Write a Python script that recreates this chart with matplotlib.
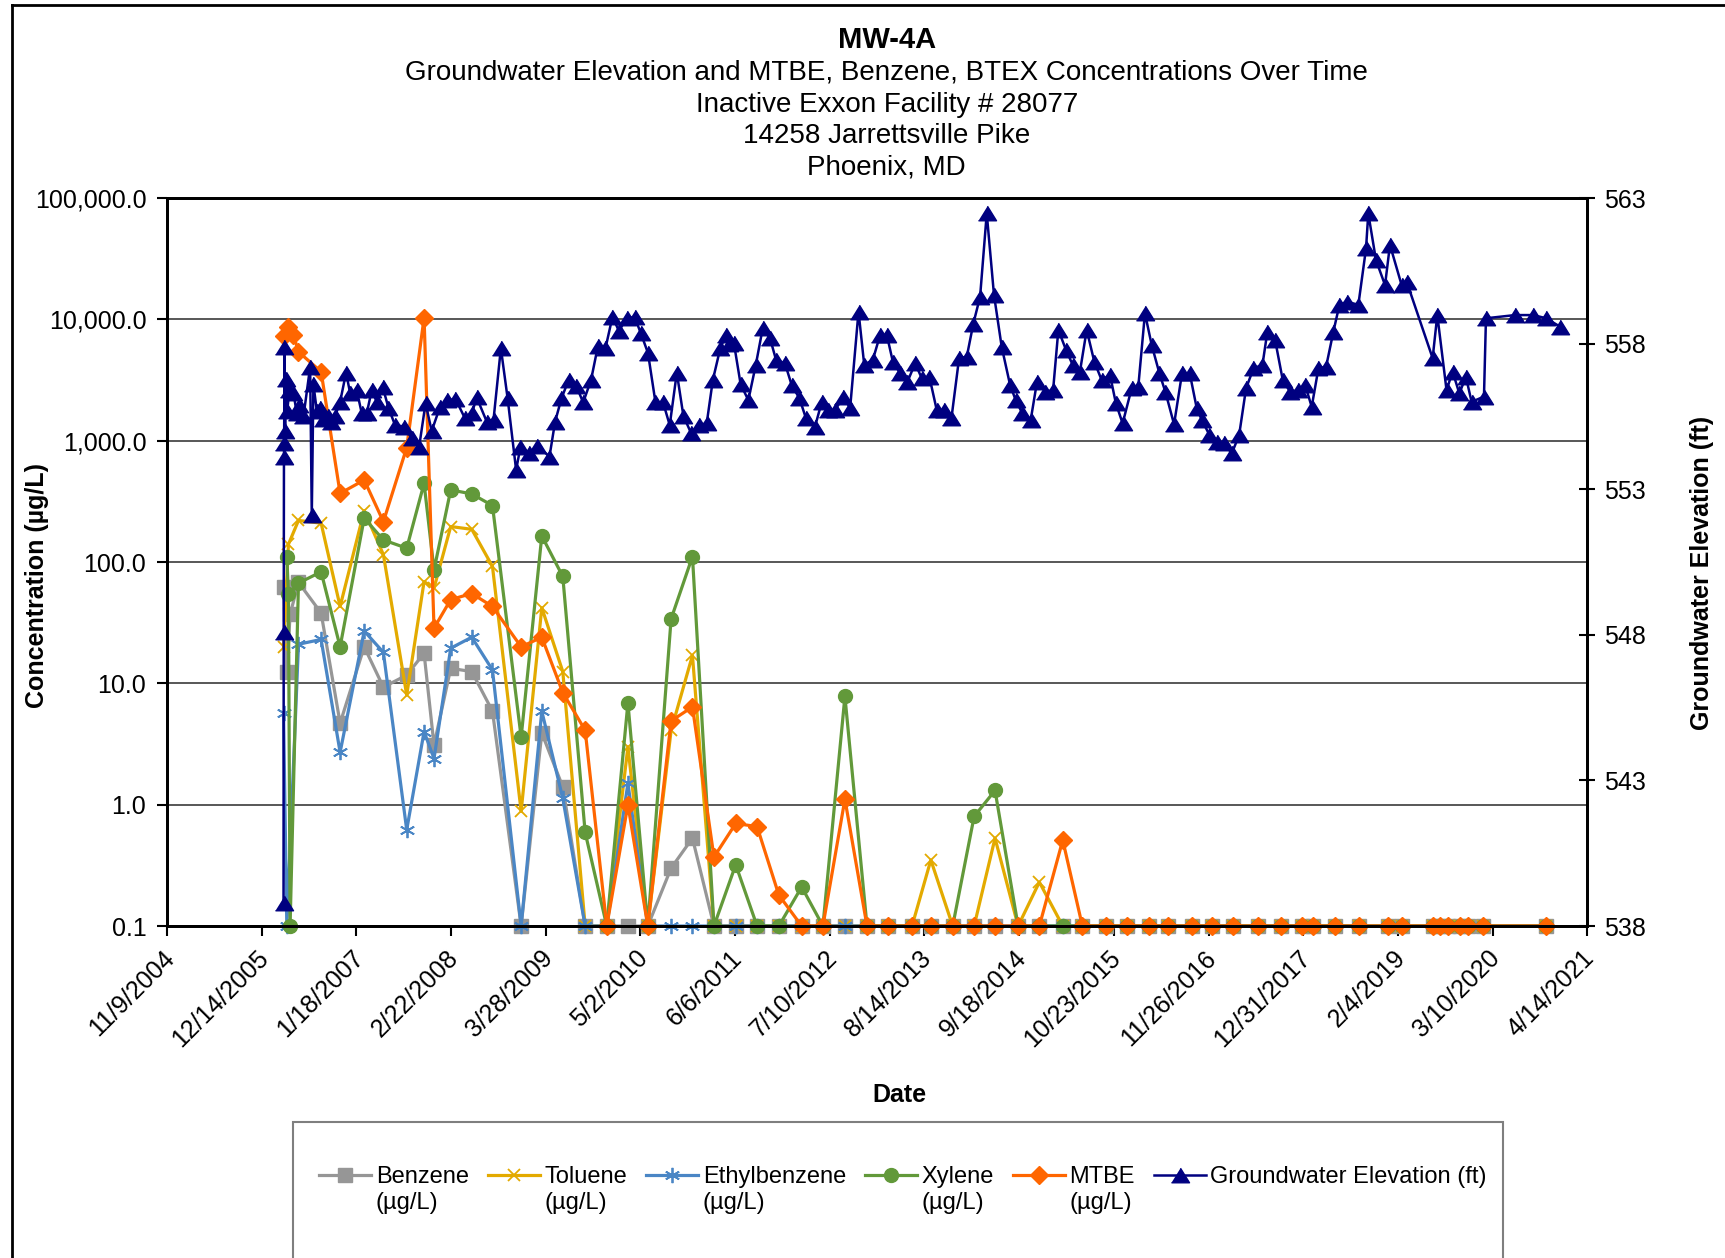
import numpy as np
import pandas as pd
import matplotlib
matplotlib.use("Agg")
import matplotlib.pyplot as plt
import matplotlib.ticker as mticker
import matplotlib.transforms as mtransforms
from matplotlib.patches import Rectangle
from matplotlib.lines import Line2D

plt.rcParams['font.family'] = ['Liberation Sans', 'DejaVu Sans']

# ---------------- data ----------------
x_tick_labels = ['11/9/2004', '12/14/2005', '1/18/2007', '2/22/2008', '3/28/2009', '5/2/2010',
                 '6/6/2011', '7/10/2012', '8/14/2013', '9/18/2014', '10/23/2015', '11/26/2016',
                 '12/31/2017', '2/4/2019', '3/10/2020', '4/14/2021']
conc_ticks = [0.1, 1, 10, 100, 1000, 10000, 100000]
elev_ticks = [538, 543, 548, 553, 558, 563]

# sampling dates (decimal years)
sample_dates = [2006.202, 2006.240, 2006.259, 2006.278, 2006.317, 2006.375,
                2006.637, 2006.857, 2007.136, 2007.358, 2007.628, 2007.829, 2007.944, 2008.137, 2008.380, 2008.619,
                2008.950, 2009.189, 2009.432, 2009.691, 2009.941, 2010.186, 2010.416, 2010.686, 2010.933,
                2011.182, 2011.434, 2011.681, 2011.933, 2012.197, 2012.442, 2012.696, 2012.951, 2013.199, 2013.472,
                2013.690, 2013.943, 2014.191, 2014.433, 2014.700, 2014.946, 2015.217, 2015.444, 2015.712, 2015.966,
                2016.214, 2016.437, 2016.711, 2016.946, 2017.188, 2017.480, 2017.735, 2017.989, 2018.116, 2018.371,
                2018.638, 2018.982, 2019.147, 2019.503, 2019.580, 2019.669, 2019.809, 2019.911, 2020.076, 2020.801]

benzene = [62, 12.5, None, 37, None, 68,
           38, 4.7, 20, 9.3, 11.7, 17.7, 3.1, 13.3, 12.5, 5.9,
           0.1, 3.9, 1.4, 0.1, 0.1, 0.1, 0.1, 0.3, 0.53,
           0.1, 0.1, 0.1, 0.1, 0.1, 0.1, 0.1, 0.1, 0.1, 0.1,
           0.1, 0.1, 0.1, 0.1, 0.1, 0.1, 0.1, 0.1, 0.1, 0.1,
           0.1, 0.1, 0.1, 0.1, 0.1, 0.1, 0.1, 0.1, 0.1, 0.1,
           0.1, 0.1, 0.1, 0.1, 0.1, 0.1, 0.1, 0.1, 0.1, 0.1]

toluene = [20, None, 140, None, None, 220,
           209, 43, 265, 115, 8.0, 69, 61, 196, 186, 92,
           0.88, 42, 12.5, 0.1, 0.1, 3.0, 0.1, 4.1, 17,
           0.1, 0.1, 0.1, 0.1, 0.1, 0.1, 0.1, 0.1, 0.1, 0.1,
           0.35, 0.1, 0.1, 0.53, 0.1, 0.23, 0.1, 0.1, 0.1, 0.1,
           0.1, 0.1, 0.1, 0.1, 0.1, 0.1, 0.1, 0.1, 0.1, 0.1,
           0.1, 0.1, 0.1, 0.1, 0.1, 0.1, 0.1, 0.1, 0.1, 0.1]

ethylbenzene = [5.7, 0.1, None, None, None, 21,
                23, 2.7, 27, 18, 0.62, 4.0, 2.4, 19.5, 24, 12.9,
                0.1, 5.9, 1.13, 0.1, 0.1, 1.5, 0.1, 0.1, 0.1,
                0.1, 0.1, 0.1, 0.1, 0.1, 0.1, 0.1, 0.1, 0.1, 0.1,
                0.1, 0.1, 0.1, 0.1, 0.1, 0.1, 0.1, 0.1, 0.1, 0.1,
                0.1, 0.1, 0.1, 0.1, 0.1, 0.1, 0.1, 0.1, 0.1, 0.1,
                0.1, 0.1, 0.1, 0.1, 0.1, 0.1, 0.1, 0.1, 0.1, 0.1]

xylene = [None, 111, 54, 0.1, None, 67,
          83, 20, 230, 152, 130, 445, 86, 393, 364, 292,
          3.6, 164, 76, 0.59, 0.1, 6.9, 0.1, 34, 111,
          0.1, 0.32, 0.1, 0.1, 0.21, 0.1, 7.8, 0.1, 0.1, 0.1,
          0.1, 0.1, 0.80, 1.31, 0.1, 0.1, 0.1, 0.1, 0.1, 0.1,
          0.1, 0.1, 0.1, 0.1, 0.1, 0.1, 0.1, 0.1, 0.1, 0.1,
          0.1, 0.1, 0.1, 0.1, 0.1, 0.1, 0.1, 0.1, 0.1, 0.1]

mtbe = [7300, None, 8700, None, 7400, 5400,
        3700, 368, 474, 215, 877, 10300, 28.5, 49, 55, 43,
        20, 24, 8.4, 4.1, 0.1, 1.0, 0.1, 4.9, 6.4,
        0.37, 0.70, 0.66, 0.18, 0.1, 0.1, 1.11, 0.1, 0.1, 0.1,
        0.1, 0.1, 0.1, 0.1, 0.1, 0.1, 0.51, 0.1, 0.1, 0.1,
        0.1, 0.1, 0.1, 0.1, 0.1, 0.1, 0.1, 0.1, 0.1, 0.1,
        0.1, 0.1, 0.1, 0.1, 0.1, 0.1, 0.1, 0.1, 0.1, 0.1]

gw_dates = [2006.202, 2006.204, 2006.207, 2006.209, 2006.213, 2006.220, 2006.226, 2006.245, 2006.270, 2006.317,
            2006.356, 2006.385, 2006.433, 2006.510, 2006.529, 2006.548, 2006.587, 2006.625, 2006.656, 2006.722,
            2006.754, 2006.798, 2006.857, 2006.926, 2006.973, 2007.049, 2007.108, 2007.165, 2007.223, 2007.281,
            2007.351, 2007.416, 2007.493, 2007.598, 2007.685, 2007.772, 2007.846, 2007.917, 2008.014, 2008.096,
            2008.192, 2008.302, 2008.380, 2008.437, 2008.553, 2008.631, 2008.716, 2008.794, 2008.892, 2008.942,
            2009.042, 2009.132, 2009.278, 2009.343, 2009.417, 2009.499, 2009.586, 2009.668, 2009.759, 2009.839,
            2009.926, 2010.007, 2010.081, 2010.173, 2010.263, 2010.336, 2010.418, 2010.505, 2010.593, 2010.670,
            2010.752, 2010.828, 2010.918, 2011.008, 2011.098, 2011.169, 2011.256, 2011.322, 2011.360, 2011.413,
            2011.491, 2011.580, 2011.665, 2011.746, 2011.831, 2011.901, 2012.004, 2012.081, 2012.171, 2012.247,
            2012.351, 2012.429, 2012.505, 2012.583, 2012.679, 2012.756, 2012.853, 2012.919, 2013.018, 2013.103,
            2013.180, 2013.250, 2013.335, 2013.419, 2013.508, 2013.585, 2013.673, 2013.758, 2013.844, 2013.928,
            2014.017, 2014.106, 2014.182, 2014.260, 2014.337, 2014.421, 2014.510, 2014.607, 2014.672, 2014.750,
            2014.846, 2014.919, 2015.016, 2015.105, 2015.166, 2015.255, 2015.332, 2015.416, 2015.494, 2015.582,
            2015.667, 2015.764, 2015.832, 2015.910, 2016.014, 2016.091, 2016.168, 2016.246, 2016.335, 2016.405,
            2016.504, 2016.596, 2016.685, 2016.766, 2016.824, 2016.913, 2016.998, 2017.082, 2017.171, 2017.256,
            2017.336, 2017.422, 2017.526, 2017.583, 2017.672, 2017.761, 2017.845, 2017.942, 2018.020, 2018.096,
            2018.174, 2018.263, 2018.347, 2018.417, 2018.508, 2018.636, 2018.725, 2018.751, 2018.840, 2018.945,
            2019.002, 2019.137, 2019.195, 2019.496, 2019.550, 2019.657, 2019.727, 2019.805, 2019.881, 2019.947,
            2020.090, 2020.113, 2020.449, 2020.660, 2020.808, 2020.969]

gw_elev = [538.8, 548.1, 554.1, 554.6, 557.9, 555.0, 556.8, 555.7, 556.4, 556.3,
           555.6, 555.9, 555.5, 557.2, 552.1, 556.6, 555.7, 555.8, 555.4, 555.5,
           555.3, 555.5, 556.0, 557.0, 556.3, 556.4, 555.6, 555.6, 556.4, 556.0,
           556.5, 555.8, 555.2, 555.15, 554.75, 554.46, 555.95, 555.0, 555.83, 556.05,
           556.1, 555.43, 555.6, 556.15, 555.32, 555.38, 557.84, 556.12, 553.66, 554.45,
           554.23, 554.5, 554.12, 555.32, 556.12, 556.75, 556.56, 555.98, 556.75, 557.92,
           557.84, 558.92, 558.44, 558.87, 558.92, 558.35, 557.68, 555.98, 555.98, 555.2,
           557.0, 555.52, 554.92, 555.2, 555.26, 556.75, 557.85, 558.3, 558.0, 558.01,
           556.6, 556.06, 557.25, 558.52, 558.18, 557.44, 557.32, 556.58, 556.12, 555.43,
           555.15, 556.0, 555.72, 555.72, 556.18, 555.78, 559.1, 557.27, 557.44, 558.3,
           558.3, 557.38, 556.98, 556.69, 557.32, 556.81, 556.86, 555.72, 555.72, 555.43,
           557.5, 557.55, 558.69, 559.61, 562.47, 559.67, 557.89, 556.58, 556.06, 555.6,
           555.38, 556.69, 556.35, 556.4, 558.47, 557.78, 557.27, 557.04, 558.47, 557.38,
           556.75, 556.92, 555.95, 555.26, 556.46, 556.52, 559.04, 557.95, 556.98, 556.33,
           555.23, 556.98, 556.98, 555.78, 555.38, 554.86, 554.63, 554.58, 554.23, 554.86,
           556.46, 557.15, 557.27, 558.41, 558.13, 556.75, 556.35, 556.4, 556.58, 555.83,
           557.15, 557.21, 558.41, 559.33, 559.44, 559.33, 561.27, 562.47, 560.87, 560.01,
           561.39, 560.01, 560.13, 557.5, 558.98, 556.4, 557.04, 556.29, 556.86, 556.0,
           556.18, 558.87, 558.98, 558.98, 558.87, 558.58]


def to_datetime(years):
    out = []
    for y in years:
        yr = int(y)
        start = pd.Timestamp(year=yr, month=1, day=1)
        end = pd.Timestamp(year=yr + 1, month=1, day=1)
        out.append(start + (end - start) * (y - yr))
    return pd.DatetimeIndex(out).to_numpy()


conc_x = to_datetime(sample_dates)
gw_x = to_datetime(gw_dates)
tick_x = pd.to_datetime(x_tick_labels, format='%m/%d/%Y').to_numpy()

# ---------------- figure ----------------
fig = plt.figure(figsize=(17.25, 12.58), dpi=100)
ax = fig.add_axes([0.0969, 0.2639, 0.8232, 0.5787])
ax2 = ax.twinx()

series = [
    ('Benzene\n(µg/L)', benzene, '#969696', 's', 10, dict()),
    ('Toluene\n(µg/L)', toluene, '#E3AA00', 'x', 9, dict(markeredgewidth=1.3)),
    ('Ethylbenzene\n(µg/L)', ethylbenzene, '#4A86C5', (6, 2, 0), 11, dict(markeredgewidth=1.3)),
    ('Xylene\n(µg/L)', xylene, '#62993A', 'o', 10, dict()),
    ('MTBE\n(µg/L)', mtbe, '#FF6600', 'D', 9.5, dict()),
]

handles = []
labels = []
for lab, vals, col, mk, ms, extra in series:
    v = np.array([np.nan if a is None else a for a in vals], dtype=float)
    m = ~np.isnan(v)
    ln, = ax.plot(conc_x[m], v[m], color=col, lw=2.3, marker=mk, markersize=ms,
                  markerfacecolor=col, markeredgecolor=col, clip_on=False, **extra)
    handles.append(ln)
    labels.append(lab)

tri = [(-0.62, -0.5), (0.62, -0.5), (0.0, 0.5)]
ln_gw, = ax2.plot(gw_x, gw_elev, color='#000080', lw=1.8, marker=tri, markersize=13,
                  markerfacecolor='#000080', markeredgecolor='#000080', clip_on=False)
handles.append(ln_gw)
labels.append('Groundwater Elevation (ft)')

# axes scales and limits
ax.set_yscale('log')
ax.set_ylim(0.1, 100000)
ax.set_yticks(conc_ticks)
ax.yaxis.set_major_formatter(mticker.FuncFormatter(lambda v, p: f'{v:,.1f}'))
ax.yaxis.set_minor_locator(mticker.NullLocator())
ax.set_xlim(tick_x[0], tick_x[-1])
ax.set_xticks(tick_x)
ax.set_xticklabels(x_tick_labels, rotation=45, ha='right', rotation_mode='anchor')
ax.xaxis.set_minor_locator(mticker.NullLocator())

ax2.set_ylim(538, 563)
ax2.set_yticks(elev_ticks)
ax2.yaxis.set_minor_locator(mticker.NullLocator())

ax.yaxis.grid(True, which='major', color='#4a4a4a', lw=1.3)
ax.set_axisbelow(True)

for a in (ax, ax2):
    for sp in ['left', 'bottom', 'right', 'top']:
        a.spines[sp].set_linewidth(2)
        a.spines[sp].set_color('black')

ax.tick_params(axis='x', direction='out', length=7, width=1.5, labelsize=18, pad=6)
ax.tick_params(axis='y', direction='out', length=7, width=1.5, labelsize=18, pad=8)
ax2.tick_params(axis='y', direction='inout', length=12, width=1.5, labelsize=18, pad=6)

shift = mtransforms.ScaledTranslation(-5 / 100, -2 / 100, fig.dpi_scale_trans)
for lbl in ax.get_xticklabels():
    lbl.set_transform(lbl.get_transform() + shift)

ax.set_ylabel('Concentration (µg/L)', fontsize=18, fontweight='bold', va='center')
ax.yaxis.set_label_coords(-0.0917, 0.468)
ax2.set_ylabel('Groundwater Elevation (ft)', fontsize=18, fontweight='bold', va='center')
ax2.yaxis.set_label_coords(1.0808, 0.485)
ax.set_xlabel('Date', fontsize=18, fontweight='bold', va='center')
ax.xaxis.set_label_coords(0.516, -0.2327)

# titles
fig.text(0.514, 0.9683, 'MW-4A', ha='center', va='center', fontsize=21, fontweight='bold')
title_lines = ['Groundwater Elevation and MTBE, Benzene, BTEX Concentrations Over Time',
               'Inactive Exxon Facility # 28077',
               '14258 Jarrettsville Pike',
               'Phoenix, MD']
for txt, yy in zip(title_lines, [0.9423, 0.9169, 0.8915, 0.8668]):
    fig.text(0.514, yy, txt, ha='center', va='center', fontsize=20)

# legend
leg = fig.legend(handles, labels, loc='center', bbox_to_anchor=(0.5235, 0.054), ncol=6,
                 frameon=False, fontsize=17, handlelength=2.2, handletextpad=0.2,
                 columnspacing=0.8)
leg._legend_handle_box.align = 'top'
for col in leg._legend_handle_box.get_children():
    for entry in col.get_children():
        entry.align = 'top'
fig.patches.append(Rectangle((293 / 1725, -0.1), (1503 - 293) / 1725, 0.1 + (1 - 1122 / 1258),
                             transform=fig.transFigure, fill=False, edgecolor='#7f7f7f',
                             lw=1.5, clip_on=False))

# outer border of chart area
bx = 12 / 1725
by = 1 - 5 / 1258
fig.lines.append(Line2D([bx, bx], [-0.01, by], transform=fig.transFigure, color='black', lw=2))
fig.lines.append(Line2D([bx, 1.01], [by, by], transform=fig.transFigure, color='black', lw=2))

fig.savefig('out.png', dpi=100)
